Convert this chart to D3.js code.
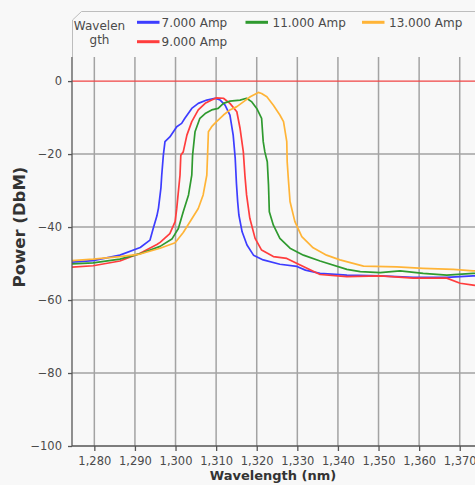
<!DOCTYPE html>
<html>
<head>
<meta charset="utf-8">
<script src="https://cdn.jsdelivr.net/npm/d3@7"></script>
<style>
  body { margin: 0; background: #f8f8f8; }
  svg { display: block; font-family: "DejaVu Sans", Verdana, sans-serif; }
</style>
</head>
<body>
<svg id="chart" width="475" height="485"></svg>
<script>
// wavelength (nm), power (dBm)
const amp7 = [
  [1274.5, -49.6], [1279.7, -49.2], [1286.3, -47.7], [1291.3, -45.6], [1293.7, -43.6],
  [1294.5, -40.4], [1295.4, -37], [1295.8, -34.8], [1296.4, -29.3], [1296.6, -25.8],
  [1297.0, -20.3], [1297.4, -16.6], [1298.6, -15.3], [1300.3, -12.5], [1301.5, -11.6],
  [1302.3, -10.2], [1304.0, -7.5], [1305.6, -6.1], [1307.7, -5.2], [1309.7, -4.7],
  [1311.0, -5.2], [1312.2, -6.6], [1313.4, -9.3], [1314.2, -14.8], [1314.7, -21.2],
  [1315.0, -28], [1315.3, -33], [1315.6, -36.7], [1316.4, -41.3], [1317.6, -44.9],
  [1319.2, -47.7], [1321.6, -49], [1325.7, -50.2], [1329.9, -50.8], [1332.0, -51.8],
  [1335.6, -52.7], [1342.2, -53.2], [1350.4, -53.4], [1358.5, -53.8], [1366.8, -53.8],
  [1373.3, -53.4], [1375, -53.4]
];
const amp9 = [
  [1274.5, -51], [1279.7, -50.6], [1286.3, -49.3], [1291.3, -47.2], [1295.4, -44.8],
  [1296.2, -44.2], [1298.6, -41.8], [1299.9, -38.5], [1300.3, -34.9], [1300.7, -30.3],
  [1301.1, -25.8], [1301.3, -20.3], [1301.9, -19.4], [1302.8, -14.8], [1304.0, -11.1],
  [1305.6, -7.9], [1307.3, -6.1], [1308.9, -5.2], [1310.1, -4.6], [1311.8, -4.7],
  [1313.4, -6.1], [1315.1, -8.4], [1315.9, -13], [1316.7, -19.4], [1317.1, -26],
  [1317.5, -31.2], [1318.3, -37.6], [1319.6, -43.1], [1321.2, -46.3], [1324.1, -48.1],
  [1327.4, -48.6], [1330.7, -50.4], [1335.6, -53.0], [1342.2, -53.6], [1350.4, -53.4],
  [1358.6, -54], [1366.8, -54], [1370.1, -55.4], [1373.3, -55.9], [1375, -56.3]
];
const amp11 = [
  [1274.5, -50.1], [1279.7, -49.8], [1286.3, -48.8], [1291.3, -47.3], [1296.2, -45.3],
  [1299.1, -43.3], [1300.7, -40.4], [1301.9, -35.8], [1303.2, -31.2], [1304.0, -25.8],
  [1304.2, -20.3], [1304.8, -13.9], [1306.0, -10.2], [1307.3, -8.9], [1308.9, -7.9],
  [1310.5, -7.5], [1311.8, -6.1], [1313.4, -5.5], [1315.9, -5.2], [1317.5, -4.7],
  [1318.8, -5.7], [1320.0, -7.5], [1321.2, -10.2], [1321.6, -16.6], [1322.0, -19.4],
  [1322.6, -22.1], [1322.9, -28.5], [1323.1, -35.8], [1324.1, -39.5], [1325.7, -43.1],
  [1328.2, -45.8], [1331.5, -47.7], [1335.6, -49.3], [1342.2, -51.6], [1345.5, -52.2],
  [1350.4, -52.5], [1355.3, -52], [1361.0, -52.7], [1366.8, -53.2], [1373.3, -52.7],
  [1375, -52.6]
];
const amp13 = [
  [1274.5, -49.2], [1279.7, -48.8], [1286.3, -48.1], [1291.3, -47.4], [1296.2, -45.8],
  [1299.9, -44.3], [1301.9, -41.5], [1303.6, -38.5], [1305.6, -34.9], [1306.8, -31.2],
  [1307.7, -25.8], [1307.9, -20], [1308.1, -13.9], [1308.9, -12.5], [1310.1, -11.1],
  [1311.8, -9.3], [1313.4, -7.9], [1315.1, -7], [1316.7, -5.7], [1318.4, -4.3],
  [1320.4, -3.1], [1321.2, -3.4], [1322.5, -4.3], [1324.1, -6.6], [1325.7, -9.3],
  [1326.6, -11.1], [1327.4, -16.6], [1327.5, -22.1], [1327.8, -27], [1328.2, -33],
  [1329.4, -38.5], [1331.1, -42.6], [1333.9, -45.7], [1337.2, -47.7], [1340.5, -49],
  [1346.3, -50.7], [1354.5, -50.9], [1361.0, -51.3], [1368.4, -51.6], [1373.3, -52],
  [1375, -52]
];

const seriesNames = ["7.000 Amp", "9.000 Amp", "11.000 Amp", "13.000 Amp"];
const seriesData = [amp7, amp9, amp11, amp13];
const seriesColors = ["#3d3dff", "#ff3d3d", "#2f9a2f", "#ffb437"];
const xTicks = [1280, 1290, 1300, 1310, 1320, 1330, 1340, 1350, 1360, 1370];
const yTicks = [0, -20, -40, -60, -80, -100];

const svg = d3.select("#chart");
const plotL = 72, plotT = 57, plotB = 446;

const x = d3.scaleLinear().domain([1274.5, 1375]).range([plotL, plotL + 4.06 * 100.5]);
const y = d3.scaleLinear().domain([-100, 6.6]).range([plotB, plotT]);

svg.append("defs").append("clipPath").attr("id", "plot")
  .append("rect").attr("x", plotL).attr("y", plotT).attr("width", 475 - plotL).attr("height", plotB - plotT);

// grid
const grid = svg.append("g");
grid.selectAll("line.v").data(xTicks).join("line")
  .attr("x1", d => x(d)).attr("x2", d => x(d))
  .attr("y1", plotT).attr("y2", plotB)
  .attr("stroke", "#a3a3a3").attr("stroke-width", 1.5);
grid.selectAll("line.h").data(yTicks.filter(d => d !== 0 && d !== -100)).join("line")
  .attr("x1", plotL).attr("x2", 475)
  .attr("y1", d => y(d)).attr("y2", d => y(d))
  .attr("stroke", "#a3a3a3").attr("stroke-width", 1.5);
grid.append("line")
  .attr("x1", plotL).attr("x2", 475).attr("y1", y(0)).attr("y2", y(0))
  .attr("stroke", "#f04545").attr("stroke-width", 1.2);

// lines
const line = d3.line().x(d => x(d[0])).y(d => y(d[1]));
svg.append("g").attr("clip-path", "url(#plot)")
  .selectAll("path").data(seriesData).join("path")
  .attr("fill", "none")
  .attr("stroke", (d, i) => seriesColors[i])
  .attr("stroke-width", 1.7)
  .attr("stroke-linejoin", "round")
  .attr("d", line);

// axes
const xAxis = svg.append("g").attr("transform", `translate(0,${plotB})`)
  .call(d3.axisBottom(x).tickValues(xTicks).tickSize(5).tickPadding(6).tickFormat(d3.format(",")));
const yAxis = svg.append("g").attr("transform", `translate(${plotL},0)`)
  .call(d3.axisLeft(y).tickValues(yTicks).tickSize(4).tickPadding(6));
[xAxis, yAxis].forEach(a => {
  a.select(".domain").attr("stroke", "#555").attr("stroke-width", 1.3);
  a.selectAll(".tick line").attr("stroke", "#555").attr("stroke-width", 1.3);
  a.selectAll(".tick text").attr("fill", "#4a4a4a").style("font-size", "11.5px")
    .style("font-family", "'DejaVu Sans', Verdana, sans-serif");
});
xAxis.select(".domain").attr("d", `M${plotL},0H475`);
yAxis.select(".domain").attr("d", `M0,${plotT}V${plotB}`);

svg.append("text")
  .attr("transform", "translate(25,227) rotate(-90)")
  .attr("text-anchor", "middle")
  .attr("fill", "#333").style("font-size", "16.5px").style("font-weight", "bold")
  .text("Power (DbM)");
svg.append("text")
  .attr("x", 273).attr("y", 480)
  .attr("text-anchor", "middle")
  .attr("fill", "#333").style("font-size", "13px").style("font-weight", "bold")
  .text("Wavelength (nm)");

// legend
const lg = svg.append("g");
lg.append("path")
  .attr("d", "M72.5,57V20L81.5,11.5H476")
  .attr("fill", "none").attr("stroke", "#bdbdbd").attr("stroke-width", 1);
lg.append("text").attr("x", 99.5).attr("y", 29.5).attr("text-anchor", "middle")
  .attr("fill", "#4a4a4a").style("font-size", "12px").text("Wavelen");
lg.append("text").attr("x", 99.5).attr("y", 44).attr("text-anchor", "middle")
  .attr("fill", "#4a4a4a").style("font-size", "12px").text("gth");

const legendPos = [[137, 22.3], [137, 41.7], [245.5, 22.3], [362, 22.3]];
const items = lg.selectAll("g.item").data(seriesNames).join("g")
  .attr("transform", (d, i) => `translate(${legendPos[i][0]},${legendPos[i][1]})`);
items.append("line").attr("x1", 0).attr("x2", 22.5)
  .attr("stroke", (d, i) => seriesColors[i]).attr("stroke-width", 3);
items.append("text").attr("x", (d, i) => i < 2 ? 24.5 : 27)
  .attr("y", 4.6)
  .attr("fill", "#4a4a4a").style("font-size", "12px").text(d => d);
</script>
</body>
</html>
